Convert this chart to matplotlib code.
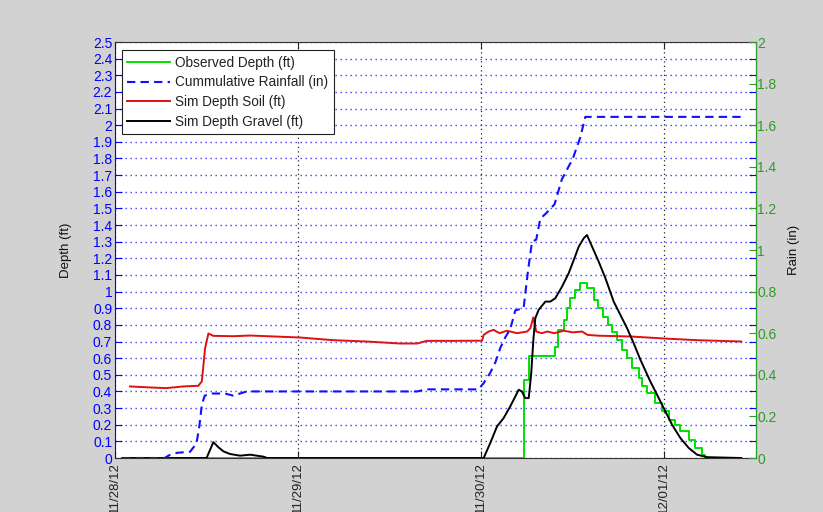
import matplotlib
matplotlib.use('Agg')
import matplotlib.pyplot as plt
import numpy as np

plt.rcParams['font.family'] = ['Liberation Sans', 'DejaVu Sans']

# x values are days after 11/28/12 00:00
date_ticks = [0, 1, 2, 3]
date_labels = ['11/28/12', '11/29/12', '11/30/12', '12/01/12']

# Observed Depth (ft) - stepped record
obs_days = [0.50, 2.235, 2.26, 2.40, 2.42, 2.45, 2.468, 2.486, 2.514, 2.541,
            2.577, 2.614, 2.635, 2.665, 2.690, 2.714, 2.741, 2.769, 2.796, 2.823,
            2.860, 2.878, 2.905, 2.951, 2.987, 3.023, 3.060, 3.087, 3.133, 3.169,
            3.206, 3.224, 3.40]
obs_depth = [0.0, 0.47, 0.61, 0.67, 0.77, 0.83, 0.90, 0.96, 1.01, 1.05,
             1.02, 0.95, 0.90, 0.85, 0.80, 0.76, 0.71, 0.65, 0.60, 0.54,
             0.48, 0.43, 0.39, 0.33, 0.28, 0.23, 0.20, 0.16, 0.11, 0.06,
             0.02, 0.0, 0.0]

# Cummulative Rainfall (in) - right axis
rain_days = [0.04, 0.27, 0.30, 0.34, 0.41, 0.445, 0.46, 0.475, 0.49, 0.53,
             0.60, 0.645, 0.72, 1.00, 1.30, 1.65, 1.70, 1.985, 2.013, 2.049,
             2.077, 2.104, 2.131, 2.158, 2.186, 2.231, 2.255, 2.277, 2.300, 2.322,
             2.358, 2.400, 2.440, 2.500, 2.540, 2.568, 3.42]
rain_in = [0, 0, 0.015, 0.025, 0.03, 0.07, 0.15, 0.26, 0.30, 0.31,
           0.31, 0.30, 0.32, 0.32, 0.32, 0.32, 0.33, 0.33, 0.36, 0.41,
           0.46, 0.53, 0.58, 0.62, 0.71, 0.72, 0.90, 1.04, 1.05, 1.15,
           1.18, 1.22, 1.34, 1.44, 1.54, 1.64, 1.64]

# Sim Depth Soil (ft)
soil_days = [0.082, 0.19, 0.28, 0.373, 0.455, 0.474, 0.492, 0.51, 0.537, 0.647,
             0.738, 1.011, 1.193, 1.375, 1.557, 1.649, 1.703, 1.831, 2.004, 2.013,
             2.040, 2.067, 2.10, 2.14, 2.195, 2.25, 2.268, 2.284, 2.30, 2.33,
             2.36, 2.40, 2.45, 2.50, 2.55, 2.58, 2.64, 2.82, 3.00, 3.18,
             3.42]
soil_depth = [0.43, 0.424, 0.42, 0.43, 0.434, 0.46, 0.66, 0.748, 0.734, 0.732,
              0.736, 0.724, 0.708, 0.70, 0.688, 0.688, 0.704, 0.704, 0.705, 0.74,
              0.76, 0.77, 0.75, 0.765, 0.75, 0.76, 0.78, 0.845, 0.76, 0.75,
              0.76, 0.75, 0.765, 0.755, 0.76, 0.74, 0.735, 0.73, 0.718, 0.708,
              0.70]

# Sim Depth Gravel (ft)
gravel_days = [0.04, 0.50, 0.537, 0.565, 0.592, 0.628, 0.683, 0.738, 0.774, 0.811,
               0.83, 2.013, 2.049, 2.086, 2.122, 2.158, 2.186, 2.204, 2.222, 2.240,
               2.259, 2.272, 2.285, 2.295, 2.313, 2.350, 2.377, 2.404, 2.441, 2.477,
               2.505, 2.532, 2.559, 2.577, 2.605, 2.641, 2.678, 2.723, 2.796, 2.832,
               2.869, 2.923, 2.969, 3.005, 3.042, 3.087, 3.133, 3.178, 3.233, 3.42]
gravel_depth = [0, 0, 0.095, 0.064, 0.04, 0.024, 0.014, 0.02, 0.014, 0.008,
                0, 0, 0.09, 0.19, 0.24, 0.31, 0.37, 0.41, 0.40, 0.36,
                0.36, 0.50, 0.72, 0.84, 0.89, 0.94, 0.94, 0.96, 1.03, 1.11,
                1.19, 1.27, 1.32, 1.34, 1.27, 1.18, 1.08, 0.94, 0.78, 0.69,
                0.59, 0.46, 0.36, 0.28, 0.20, 0.12, 0.06, 0.02, 0.005, 0]

depth_ticks = np.round(np.arange(0, 2.51, 0.1), 1)
rain_ticks = np.round(np.arange(0, 2.01, 0.2), 1)

left_col = '#0000ff'
right_col = '#2f9a2f'

fig = plt.figure(figsize=(8.23, 5.12), dpi=100, facecolor='#d2d2d2')
ax = fig.add_axes([115 / 823, 54 / 512, 641 / 823, 416 / 512])
ax2 = ax.twinx()

# depth axis
l_obs, = ax.plot(obs_days, obs_depth, color='#00e000', lw=1.4, drawstyle='steps-post', zorder=3)
l_soil, = ax.plot(soil_days, soil_depth, color='#e01010', lw=1.4, zorder=4)
l_grav, = ax.plot(gravel_days, gravel_depth, color='black', lw=1.4, zorder=5)

ax.set_xlim(0, 3.5)
ax.set_ylim(0, 2.5)
ax.set_yticks(depth_ticks)
ax.set_yticklabels([f'{v:g}' for v in depth_ticks])
ax.set_xticks(date_ticks)
ax.set_xticklabels(date_labels, rotation=90, va='top', ha='center')
ax.tick_params(axis='y', direction='in', length=5, width=0.8, colors=left_col,
               labelsize=10, pad=2, right=True)
ax.tick_params(axis='x', direction='in', length=5, width=0.8, colors='#222222',
               labelsize=9.5, pad=3, top=True)
ax.yaxis.grid(True, color='#3c3cff', linestyle=(0, (1, 2.6)), lw=1.0)
ax.xaxis.grid(True, color='#222222', linestyle=(0, (1, 2.6)), lw=0.9)
ax.set_axisbelow(True)
ax.spines['left'].set_color(left_col)
ax.spines['top'].set_color('#333333')
ax.spines['bottom'].set_color('#333333')
ax.set_ylabel('Depth (ft)', fontsize=9.5, color='#111111')
ax.yaxis.set_label_coords(-0.067, 0.5)

# rain axis
l_rain, = ax2.plot(rain_days, rain_in, color='#1010ff', lw=1.5, linestyle=(0, (4, 2.5)), zorder=3)
ax2.set_ylim(0, 2)
ax2.set_yticks(rain_ticks)
ax2.set_yticklabels([f'{v:g}' for v in rain_ticks])
ax2.tick_params(axis='y', direction='in', length=5, width=0.8, colors=right_col,
                labelsize=10, pad=1)
for s in ['left', 'top', 'bottom']:
    ax2.spines[s].set_visible(False)
ax2.spines['right'].set_color(right_col)
ax2.set_ylabel('Rain (in)', fontsize=9.5, color='#111111')
ax2.yaxis.set_label_coords(1.05, 0.5)

leg = ax2.legend([l_obs, l_rain, l_soil, l_grav],
                 ['Observed Depth (ft)', 'Cummulative Rainfall (in)',
                  'Sim Depth Soil (ft)', 'Sim Depth Gravel (ft)'],
                 loc='upper left', bbox_to_anchor=(0.0105, 0.981),
                 fontsize=9.8, handlelength=3.1, handletextpad=0.4,
                 labelspacing=0.42, borderpad=0.42, borderaxespad=0,
                 fancybox=False, framealpha=1, edgecolor='#222222')
leg.get_frame().set_linewidth(0.8)
for t in leg.get_texts():
    t.set_color('#222222')

fig.savefig('out.png', dpi=100, facecolor=fig.get_facecolor())
